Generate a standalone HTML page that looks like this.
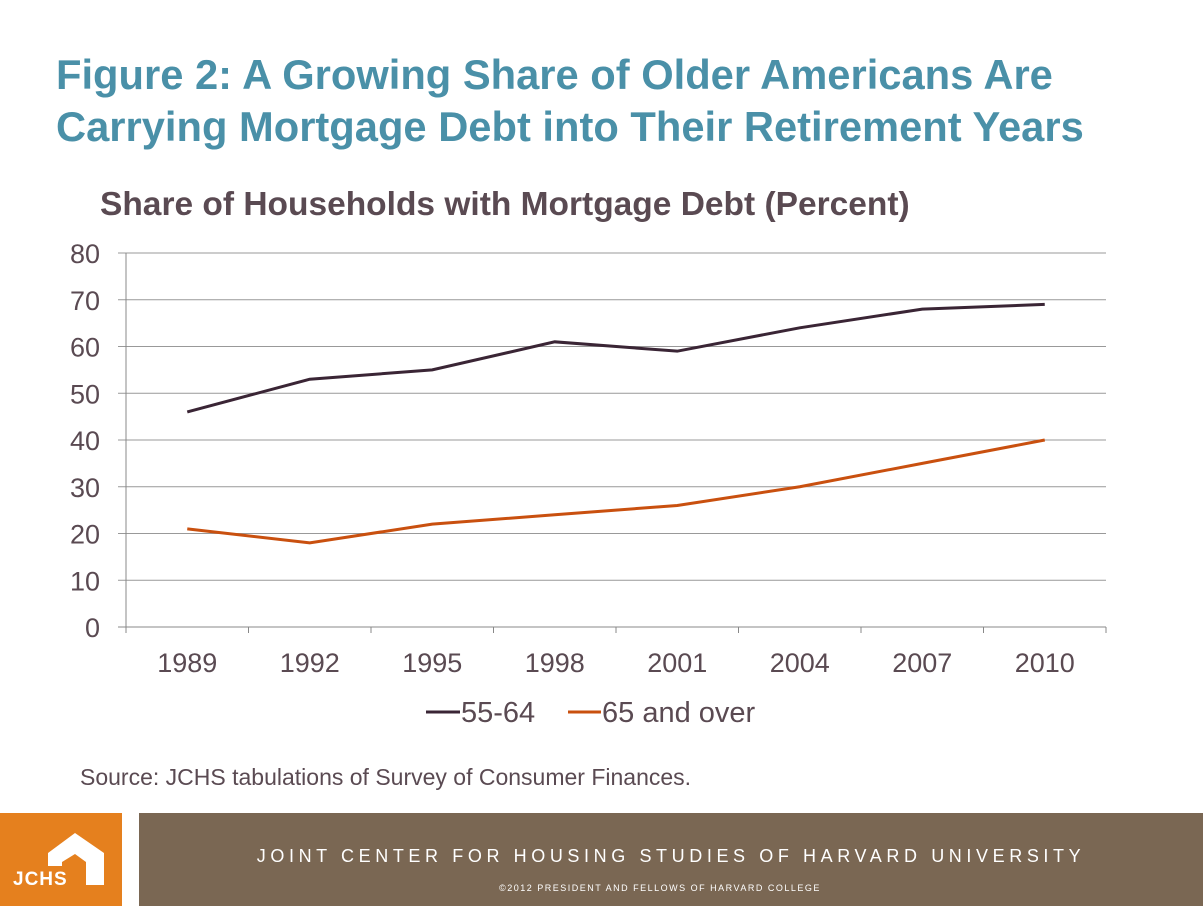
<!DOCTYPE html>
<html><head><meta charset="utf-8"><style>
body{margin:0;width:1203px;height:906px;background:#fff;position:relative;overflow:hidden;font-family:"Liberation Sans",sans-serif}
.t{position:absolute;left:56px;top:49px;color:#4a90a8;font-weight:bold;font-size:41.7px;line-height:52px;white-space:nowrap}
</style></head><body>
<div class="t">Figure 2: A Growing Share of Older Americans Are<br>Carrying Mortgage Debt into Their Retirement Years</div>
<svg width="1203" height="906" style="position:absolute;left:0;top:0">
<text x="100" y="215" font-size="33.5" font-weight="bold" fill="#5a4a52" font-family="Liberation Sans">Share of Households with Mortgage Debt (Percent)</text>
<g id="grid"></g><g id="lines"></g>
<text x="80" y="785" font-size="23" fill="#5a4a52" font-family="Liberation Sans">Source: JCHS tabulations of Survey of Consumer Finances.</text>
<g>
<line x1="426" y1="712" x2="460" y2="712" stroke="#3a2535" stroke-width="3"/>
<text x="461" y="722" font-size="29" fill="#5a4a52" font-family="Liberation Sans">55-64</text>
<line x1="568" y1="712" x2="601" y2="712" stroke="#c9500f" stroke-width="3"/>
<text x="602" y="722" font-size="29" fill="#5a4a52" font-family="Liberation Sans">65 and over</text>
</g>
<rect x="0" y="813" width="122" height="93" fill="#e5801e"/>
<polygon points="48,853 75,833 104,853 104,885 86,885 86,862 75,854 62,862 62,866 48,866" fill="#fff"/>
<text x="13" y="885" font-size="19" font-weight="bold" fill="#fff" font-family="Liberation Sans" letter-spacing="1">JCHS</text>
<rect x="139" y="813" width="1064" height="93" fill="#7a6753"/>
<text x="671" y="862" font-size="18" fill="#fff" text-anchor="middle" letter-spacing="4.6" font-family="Liberation Sans">JOINT CENTER FOR HOUSING STUDIES OF HARVARD UNIVERSITY</text>
<text x="660" y="891" font-size="9" fill="#fff" text-anchor="middle" letter-spacing="1.5" font-family="Liberation Sans">©2012 PRESIDENT AND FELLOWS OF HARVARD COLLEGE</text>
</svg>
<script>
const categories=["1989","1992","1995","1998","2001","2004","2007","2010"];
const s5564=[46,53,55,61,59,64,68,69];
const s65=[21,18,22,24,26,30,35,40];
const yTicks=[0,10,20,30,40,50,60,70,80];
const L=126,R=1106,T=253,B=627;
const x=i=>L+(R-L)/categories.length*(i+0.5);
const y=v=>B-(B-T)*v/80;
const ns="http://www.w3.org/2000/svg";
const g=document.getElementById('grid'),lg=document.getElementById('lines');
function mk(tag,a,p){const e=document.createElementNS(ns,tag);for(const k in a)e.setAttribute(k,a[k]);p.appendChild(e);return e;}
yTicks.forEach(v=>{
 const l=mk('line',{x1:118,x2:R,y1:y(v),y2:y(v),stroke:v===0?'#888':'#999','stroke-width':1},g);
 
 
 const t=mk('text',{x:100,y:y(v)+10,'font-size':27,fill:'#5a4a52','text-anchor':'end','font-family':'Liberation Sans'},g);t.textContent=v;
 
 
});
mk('line',{x1:L,x2:L,y1:T,y2:B+6,stroke:'#888'},g);
for(let i=0;i<=categories.length;i++){const xx=L+(R-L)/categories.length*i;mk('line',{x1:xx,x2:xx,y1:B,y2:B+6,stroke:'#888'},g);}
categories.forEach((c,i)=>{const t=mk('text',{x:x(i),y:672,'font-size':27,fill:'#5a4a52','text-anchor':'middle','font-family':'Liberation Sans'},g);t.textContent=c;
 
 });
[[s5564,'#3a2535','line-55-64'],[s65,'#c9500f','line-65-and-over']].forEach(([d,c,n])=>{
 const p=mk('polyline',{points:d.map((v,i)=>x(i)+','+y(v)).join(' '),fill:'none',stroke:c,'stroke-width':3},lg);
 
 
});
</script>
</body></html>
